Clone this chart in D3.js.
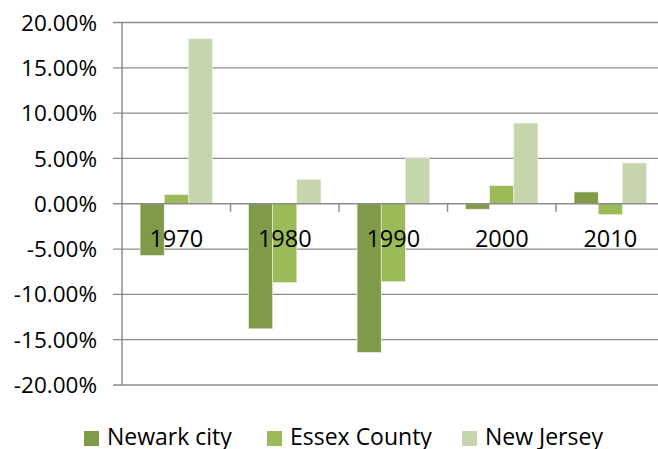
<!DOCTYPE html>
<html>
<head>
<meta charset="utf-8">
<script src="https://cdn.jsdelivr.net/npm/d3@7"></script>
<style>
  body { margin: 0; background: #fff; }
  text { font-family: "Open Sans", sans-serif; fill: #000; }
</style>
</head>
<body>
<div id="chart"></div>
<script>
let years   = ['1970', '1980', '1990', '2000', '2010'];
let series  = ['Newark city', 'Essex County', 'New Jersey'];
let colors  = ['#7f9a48', '#9bbb59', '#c6d6ac'];
let newark  = [-5.7, -13.8, -16.4, -0.6, 1.3];
let essex   = [1.0, -8.7, -8.6, 2.0, -1.2];
let nj      = [18.2, 2.7, 5.0, 8.9, 4.5];
let yTicks  = [-20, -15, -10, -5, 0, 5, 10, 15, 20];

let values = [newark, essex, nj];

let w = 658;
let h = 449;
let svg = d3.select('#chart').append('svg').attr('width', w).attr('height', h);

let plotL = 122, plotT = 22.5, plotB = 385;
let catW = 108.5;

let x = d3.scaleBand().domain(years).range([plotL, plotL + catW * years.length]).padding(0);
let xs = d3.scaleBand().domain(series).range([0, catW]).paddingInner(0).paddingOuter(0.75);
let y = d3.scaleLinear().domain([-20, 20]).range([plotB, plotT]);

// gridlines
svg.append('g').selectAll('line').data(yTicks).join('line')
    .attr('x1', plotL - 9).attr('x2', w)
    .attr('y1', d => y(d)).attr('y2', d => y(d))
    .attr('stroke', d => d === 0 ? 'none' : '#8c8c8c')
    .attr('stroke-width', 1.3);

// tick labels
svg.append('g').selectAll('text').data(yTicks).join('text')
    .attr('x', 97).attr('y', d => y(d))
    .attr('dy', '0.36em')
    .attr('text-anchor', 'end')
    .style('font-size', '22.5px')
    .text(d => d.toFixed(2) + '%');

// bars
let rows = [];
years.forEach((yr, i) => {
    series.forEach((s, j) => rows.push({ year: yr, s: s, j: j, v: values[j][i] }));
});

svg.append('g').selectAll('rect').data(rows).join('rect')
    .attr('x', d => x(d.year) + xs(d.s))
    .attr('width', xs.bandwidth())
    .attr('y', d => y(Math.max(0, d.v)))
    .attr('height', d => Math.abs(y(d.v) - y(0)))
    .attr('fill', d => colors[d.j])
    .attr('stroke', '#eef3e4')
    .attr('stroke-width', 0.6);

// y axis line
svg.append('line')
    .attr('x1', plotL).attr('x2', plotL)
    .attr('y1', plotT).attr('y2', plotB)
    .attr('stroke', '#8c8c8c').attr('stroke-width', 1.5);

// zero axis and category ticks
svg.append('line')
    .attr('x1', plotL - 9).attr('x2', w)
    .attr('y1', y(0)).attr('y2', y(0))
    .attr('stroke', '#8c8c8c').attr('stroke-width', 1.5);

svg.append('g').selectAll('line').data(years.slice(1)).join('line')
    .attr('x1', d => x(d)).attr('x2', d => x(d))
    .attr('y1', y(0)).attr('y2', y(0) + 8)
    .attr('stroke', '#8c8c8c').attr('stroke-width', 1.5);

// category labels
svg.append('g').selectAll('text').data(years).join('text')
    .attr('x', d => x(d) + catW / 2)
    .attr('y', 247)
    .attr('text-anchor', 'middle')
    .style('font-size', '23.5px')
    .text(d => d);

// legend
let legX = [84, 267, 462];
let leg = svg.append('g').selectAll('g').data(series).join('g')
    .attr('transform', (d, i) => 'translate(' + legX[i] + ',431)');
leg.append('rect').attr('width', 15).attr('height', 15).attr('fill', (d, i) => colors[i]);
leg.append('text').attr('x', 23).attr('y', 13.5).style('font-size', '23px').text(d => d);
</script>
</body>
</html>
